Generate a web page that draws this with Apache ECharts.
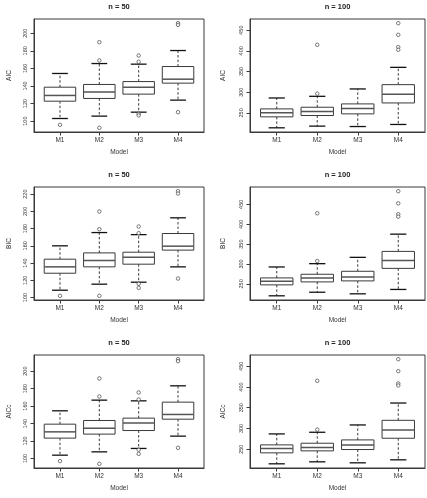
<!DOCTYPE html>
<html>
<head>
<meta charset="utf-8">
<script src="https://cdn.jsdelivr.net/npm/echarts@6/dist/echarts.min.js"></script>
<style>
  html, body { margin: 0; padding: 0; background: #fff; }
  #chart { width: 427px; height: 498px; }
</style>
</head>
<body>
<div id="chart"></div>
<script>
// model names on the x axis
const models = ['M1', 'M2', 'M3', 'M4'];

// box stats per model: [lower whisker, Q1, median, Q3, upper whisker]
const aic50 = [[103, 122.7, 129.2, 138.6, 154.2], [105.7, 125.8, 133, 141.7, 165.5], [110.2, 130.7, 138.6, 145, 164.8], [123.9, 143.2, 147.7, 162.1, 180.3]];
const aic50Out = [[95.8], [189.8, 169, 92.4], [174.6, 167.5, 108.3, 106.5], [211.4, 209.5, 110.2]];

const aic100 = [[213.9, 240.4, 250, 259.6, 286], [218, 243.6, 253.2, 263.6, 290], [217, 247.6, 260.4, 271.7, 307.8], [222, 274, 295, 318.2, 360]];
const aic100Out = [[], [414.5, 296.5], [], [466.7, 438.6, 409, 402.5]];

const bic50 = [[108.5, 128.2, 135.6, 144.5, 160], [115.5, 135.6, 143, 151.8, 175.4], [117.8, 138.7, 146.8, 152.6, 173], [135.6, 155, 159.6, 174.3, 192.5]];
const bic50Out = [[102], [199.8, 179.3, 102], [182.4, 174.7, 115.9, 111.2], [223.4, 220.7, 122]];

const bic100 = [[220, 247.5, 256.7, 265, 292.5], [229, 255, 265, 274.2, 300.8], [225, 257.5, 267.5, 281.7, 316.7], [236, 289, 309, 331.7, 375]];
const bic100Out = [[], [427.5, 307.5], [], [483, 452.5, 425, 419]];

const aicc50 = [[103.8, 123.3, 130.5, 139.3, 154.6], [107.6, 127.9, 134.7, 143.5, 166.8], [111.5, 132, 140.5, 146.2, 166], [125.6, 145, 150.4, 164.5, 183.2]];
const aicc50Out = [[97], [191.6, 171, 93.9], [175.6, 167.6, 110, 105.3], [213.7, 211.5, 112.2]];

const aicc100 = [[214.8, 241.2, 251.6, 260.4, 286.8], [219.6, 246, 254, 264.4, 290.8], [217.2, 249.2, 260.4, 272.4, 308.4], [224.4, 276.4, 296.4, 319.6, 361.2]];
const aicc100Out = [[], [414.8, 297.2], [], [466.8, 438, 408.4, 403.6]];

// tick labels
const ticks50 = [100, 120, 140, 160, 180, 200];
const ticks50b = [100, 120, 140, 160, 180, 200, 220];
const ticks100 = [250, 300, 350, 400, 450];

const panels = [
  { title: 'n = 50', ylab: 'AIC', stats: aic50, out: aic50Out, ticks: ticks50 },
  { title: 'n = 100', ylab: 'AIC', stats: aic100, out: aic100Out, ticks: ticks100 },
  { title: 'n = 50', ylab: 'BIC', stats: bic50, out: bic50Out, ticks: ticks50b },
  { title: 'n = 100', ylab: 'BIC', stats: bic100, out: bic100Out, ticks: ticks100 },
  { title: 'n = 50', ylab: 'AICc', stats: aicc50, out: aicc50Out, ticks: ticks50 },
  { title: 'n = 100', ylab: 'AICc', stats: aicc100, out: aicc100Out, ticks: ticks100 }
];

const lineCol = '#3a3a3a';
const textCol = '#333';
const font = 'Liberation Sans, Arial, sans-serif';

let myChart = echarts.init(document.getElementById('chart'));

let titles = [], grids = [], xAxes = [], yAxes = [], series = [];

panels.forEach((p, i) => {
  const row = Math.floor(i / 2), col = i % 2;
  const left = col === 0 ? 34 : 250;
  const width = col === 0 ? 170 : 175;
  const top = 19 + row * 168;
  const height = 113;

  // R style range: data range +4% each side
  let all = [];
  p.stats.forEach(s => all.push(...s));
  p.out.forEach(o => all.push(...o));
  const lo = Math.min(...all), hi = Math.max(...all);
  const pad = (hi - lo) * 0.04;

  titles.push({
    text: p.title,
    left: left + width / 2,
    top: top - 16,
    textAlign: 'center',
    padding: 0,
    textStyle: { fontSize: 7.5, fontWeight: 'bold', color: '#222', fontFamily: font }
  });

  grids.push({
    left: left, top: top, width: width, height: height,
    show: true, borderColor: lineCol, borderWidth: 1, backgroundColor: 'transparent'
  });

  xAxes.push({
    type: 'value', gridIndex: i, min: 0.34, max: 4.66,
    name: 'Model', nameLocation: 'middle', nameGap: 17,
    nameTextStyle: { fontSize: 6.5, color: textCol, fontFamily: font },
    axisLine: { show: true, lineStyle: { color: lineCol } },
    axisTick: { show: true, length: 3.5, customValues: [1, 2, 3, 4], lineStyle: { color: lineCol } },
    axisLabel: {
      customValues: [1, 2, 3, 4], margin: 5,
      formatter: v => models[Math.round(v) - 1],
      fontSize: 6.5, color: textCol, fontFamily: font
    },
    splitLine: { show: false }
  });

  yAxes.push({
    type: 'value', gridIndex: i, min: lo - pad, max: hi + pad,
    name: p.ylab, nameLocation: 'middle', nameGap: col === 0 ? 21 : 23,
    nameTextStyle: { fontSize: 6.5, color: textCol, fontFamily: font },
    axisLine: { show: true, lineStyle: { color: lineCol } },
    axisTick: { show: true, length: 3.5, customValues: p.ticks, lineStyle: { color: lineCol } },
    axisLabel: {
      customValues: p.ticks, rotate: 90, margin: 6,
      fontSize: 5.5, color: textCol, fontFamily: font
    },
    splitLine: { show: false }
  });

  series.push({
    type: 'custom',
    xAxisIndex: i, yAxisIndex: i,
    data: p.stats.map((s, k) => [k + 1].concat(s)),
    encode: { x: 0, y: [1, 2, 3, 4, 5] },
    renderItem: function (params, api) {
      const x = api.value(0);
      const pLo = api.coord([x, api.value(1)]);
      const pQ1 = api.coord([x, api.value(2)]);
      const pMed = api.coord([x, api.value(3)]);
      const pQ3 = api.coord([x, api.value(4)]);
      const pHi = api.coord([x, api.value(5)]);
      const half = api.size([0.4, 0])[0];
      const sh = api.size([0.2, 0])[0];
      const cx = pMed[0];
      const solid = { stroke: lineCol, lineWidth: 1 };
      const dashed = { stroke: lineCol, lineWidth: 1, lineDash: [2.5, 2] };
      return {
        type: 'group',
        children: [
          { type: 'line', shape: { x1: cx, y1: pQ3[1], x2: cx, y2: pHi[1] }, style: dashed },
          { type: 'line', shape: { x1: cx, y1: pQ1[1], x2: cx, y2: pLo[1] }, style: dashed },
          { type: 'line', shape: { x1: cx - sh, y1: pHi[1], x2: cx + sh, y2: pHi[1] }, style: { stroke: '#111', lineWidth: 1.3 } },
          { type: 'line', shape: { x1: cx - sh, y1: pLo[1], x2: cx + sh, y2: pLo[1] }, style: { stroke: '#111', lineWidth: 1.3 } },
          { type: 'rect', shape: { x: cx - half, y: pQ3[1], width: 2 * half, height: pQ1[1] - pQ3[1] }, style: { fill: '#fff', stroke: lineCol, lineWidth: 1 } },
          { type: 'line', shape: { x1: cx - half, y1: pMed[1], x2: cx + half, y2: pMed[1] }, style: { stroke: '#555', lineWidth: 1.5 } }
        ]
      };
    }
  });

  let outPts = [];
  p.out.forEach((o, k) => o.forEach(v => outPts.push([k + 1, v])));
  series.push({
    type: 'scatter',
    xAxisIndex: i, yAxisIndex: i,
    data: outPts,
    symbol: 'circle',
    symbolSize: 3.5,
    itemStyle: { color: '#fff', borderColor: '#333', borderWidth: 0.8 },
    silent: true
  });
});

myChart.setOption({
  animation: false,
  title: titles,
  grid: grids,
  xAxis: xAxes,
  yAxis: yAxes,
  series: series
});

window.onresize = function () {
  myChart.resize();
};
</script>
</body>
</html>
